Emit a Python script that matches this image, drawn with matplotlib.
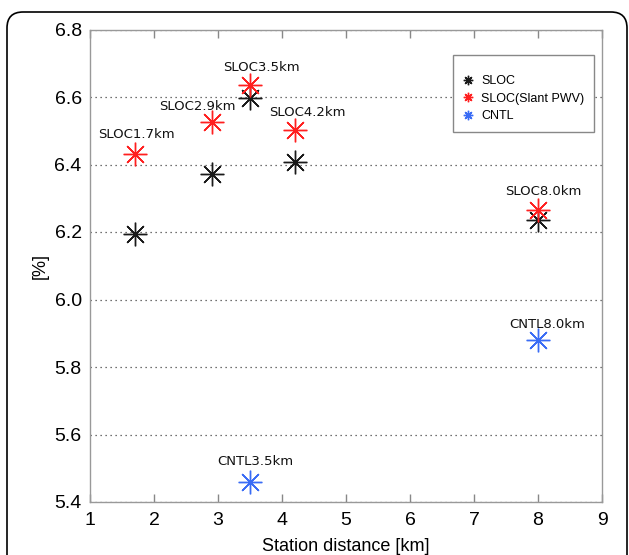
import matplotlib
matplotlib.use("Agg")
import matplotlib.pyplot as plt
from matplotlib.patches import FancyBboxPatch
from matplotlib.transforms import IdentityTransform

# Data
dist = [1.7, 2.9, 3.5, 4.2, 8.0]
sloc = [6.195, 6.373, 6.597, 6.408, 6.236]
sloc_slant = [6.432, 6.525, 6.636, 6.503, 6.266]
cntl_dist = [3.5, 8.0]
cntl = [5.458, 5.879]

ann_texts = ["SLOC1.7km", "SLOC2.9km", "SLOC3.5km", "SLOC4.2km", "SLOC8.0km", "CNTL3.5km", "CNTL8.0km"]
ann_x = [1.73, 2.67, 3.68, 4.39, 8.09, 3.59, 8.14]
ann_y = [6.488, 6.572, 6.686, 6.554, 6.319, 5.52, 5.925]

xticks = [1, 2, 3, 4, 5, 6, 7, 8, 9]
yticks = [5.4, 5.6, 5.8, 6.0, 6.2, 6.4, 6.6, 6.8]
ytick_labels = ["5.4", "5.6", "5.8", "6.0", "6.2", "6.4", "6.6", "6.8"]

plt.rcParams['font.family'] = ['Liberation Sans', 'DejaVu Sans']

fig = plt.figure(figsize=(6.29, 5.55), dpi=100)
ax = fig.add_axes([90/629, 53/555, 512/629, 472.5/555])

star = (8, 2, 0)
ms = 17
ax.plot(dist, sloc, linestyle='none', marker=star, markersize=ms, markeredgewidth=1.0,
        color='#1a1a1a', label='SLOC')
ax.plot(dist, sloc_slant, linestyle='none', marker=star, markersize=ms, markeredgewidth=1.0,
        color='#ff2020', label='SLOC(Slant PWV)')
ax.plot(cntl_dist, cntl, linestyle='none', marker=star, markersize=ms, markeredgewidth=1.0,
        color='#3a6cf5', label='CNTL')

for t, x, y in zip(ann_texts, ann_x, ann_y):
    ax.text(x, y, t, ha='center', va='center', fontsize=9.5, family='DejaVu Sans', color='#111111')

ax.set_xlim(1, 9)
ax.set_ylim(5.4, 6.8)
ax.set_xticks(xticks)
ax.set_yticks(yticks)
ax.set_yticklabels(ytick_labels)
ax.tick_params(axis='x', direction='in', length=6, width=1, color='#888888',
               top=True, labelsize=14, pad=7)
ax.tick_params(axis='y', length=0, labelsize=14, pad=6)
ax.yaxis.grid(True, linestyle=(0, (1, 3)), color='#444444', linewidth=0.9)
ax.set_axisbelow(True)
for s in ax.spines.values():
    s.set_color('#999999')
    s.set_linewidth(1.0)

ax.set_xlabel('Station distance [km]', fontsize=13, labelpad=7)
ax.set_ylabel('[%]', fontsize=13)
ax.yaxis.set_label_coords(-0.080, 0.5)

leg = ax.legend(loc='upper right', bbox_to_anchor=(0.984, 0.946), borderaxespad=0,
                fontsize=9, markerscale=0.4, handlelength=0.8, handletextpad=0.7,
                borderpad=0.75, labelspacing=0.45, fancybox=False, framealpha=1,
                title=' ', title_fontsize=4)
leg.get_frame().set_edgecolor('#888888')
leg.get_frame().set_linewidth(1.0)

frame = FancyBboxPatch((7, -30), 620, 555 - 12 + 30,
                       boxstyle="round,pad=0,rounding_size=16",
                       transform=IdentityTransform(), fill=False,
                       edgecolor='black', linewidth=1.2)
fig.add_artist(frame)

fig.savefig('out.png', dpi=100)
